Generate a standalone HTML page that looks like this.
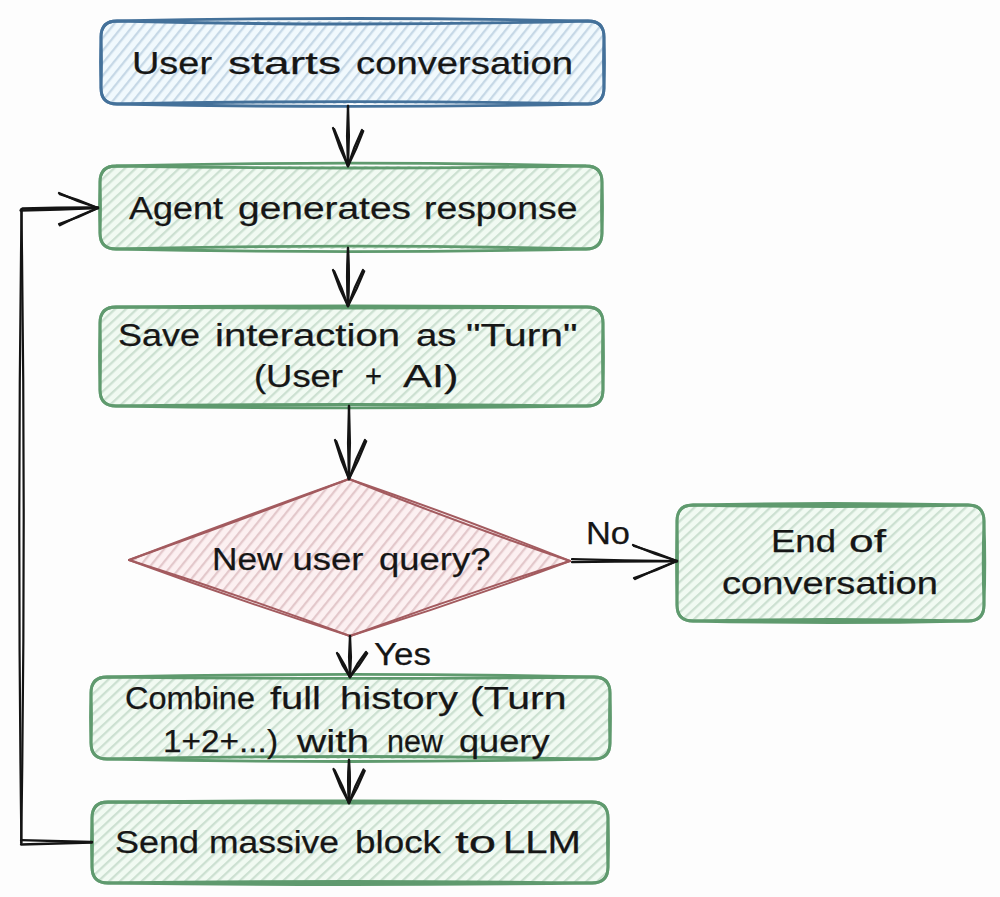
<!DOCTYPE html>
<html><head><meta charset="utf-8"><style>
html,body{margin:0;padding:0;background:#fdfdfd;width:1000px;height:897px;overflow:hidden;}
svg{display:block;font-family:"Liberation Sans",sans-serif;}
</style></head><body>
<svg width="1000" height="897" viewBox="0 0 1000 897"><defs><pattern id="hb" patternUnits="userSpaceOnUse" width="7.9" height="7.9" patternTransform="rotate(39)"><rect x="0" y="0" width="2.3" height="7.9" fill="#c6d8e6"/></pattern><pattern id="hg" patternUnits="userSpaceOnUse" width="7.4" height="7.4" patternTransform="rotate(47)"><rect x="0" y="0" width="2.3" height="7.4" fill="#cce0d1"/></pattern><pattern id="hr" patternUnits="userSpaceOnUse" width="8.0" height="8.0" patternTransform="rotate(39)"><rect x="0" y="0" width="2.3" height="8.0" fill="#e3c8cb"/></pattern></defs><rect width="1000" height="897" fill="#fdfdfd"/><g font-family="Liberation Sans, sans-serif" fill="#161616"><path d="M117.0,21.0 L588.0,21.0 Q604.0,21.0 604.0,37.0 L604.0,88.0 Q604.0,104.0 588.0,104.0 L117.0,104.0 Q101.0,104.0 101.0,88.0 L101.0,37.0 Q101.0,21.0 117.0,21.0 Z" fill="#f1f9fd"/>
<path d="M117.0,21.0 L588.0,21.0 Q604.0,21.0 604.0,37.0 L604.0,88.0 Q604.0,104.0 588.0,104.0 L117.0,104.0 Q101.0,104.0 101.0,88.0 L101.0,37.0 Q101.0,21.0 117.0,21.0 Z" fill="url(#hb)"/>
<path d="M117.0,21.0 Q352.5,16.0 588.0,21.0 Q604.0,21.0 604.0,37.0 Q605.0,62.5 604.0,88.0 Q604.0,104.0 588.0,104.0 Q352.5,108.8 117.0,104.0 Q101.0,104.0 101.0,88.0 Q100.0,62.5 101.0,37.0 Q101.0,21.0 117.0,21.0 Z" fill="none" stroke="#44719a" stroke-width="2.8" stroke-linejoin="round"/>
<path d="M117.0,21.0 Q352.5,27.0 588.0,21.0 Q604.0,21.0 604.0,37.0 Q603.0,62.5 604.0,88.0 Q604.0,104.0 588.0,104.0 Q352.5,99.2 117.0,104.0 Q101.0,104.0 101.0,88.0 Q102.0,62.5 101.0,37.0 Q101.0,21.0 117.0,21.0 Z" fill="none" stroke="#44719a" stroke-width="2.8" stroke-linejoin="round"/>
<path d="M116.0,166.0 L586.0,166.0 Q602.0,166.0 602.0,182.0 L602.0,233.0 Q602.0,249.0 586.0,249.0 L116.0,249.0 Q100.0,249.0 100.0,233.0 L100.0,182.0 Q100.0,166.0 116.0,166.0 Z" fill="#f1faf2"/>
<path d="M116.0,166.0 L586.0,166.0 Q602.0,166.0 602.0,182.0 L602.0,233.0 Q602.0,249.0 586.0,249.0 L116.0,249.0 Q100.0,249.0 100.0,233.0 L100.0,182.0 Q100.0,166.0 116.0,166.0 Z" fill="url(#hg)"/>
<path d="M116.0,166.0 Q351.0,160.4 586.0,166.0 Q602.0,166.0 602.0,182.0 Q603.0,207.5 602.0,233.0 Q602.0,249.0 586.0,249.0 Q351.0,254.2 116.0,249.0 Q100.0,249.0 100.0,233.0 Q99.0,207.5 100.0,182.0 Q100.0,166.0 116.0,166.0 Z" fill="none" stroke="#5f9a6e" stroke-width="2.8" stroke-linejoin="round"/>
<path d="M116.0,166.0 Q351.0,170.0 586.0,166.0 Q602.0,166.0 602.0,182.0 Q601.0,207.5 602.0,233.0 Q602.0,249.0 586.0,249.0 Q351.0,243.4 116.0,249.0 Q100.0,249.0 100.0,233.0 Q101.0,207.5 100.0,182.0 Q100.0,166.0 116.0,166.0 Z" fill="none" stroke="#5f9a6e" stroke-width="2.8" stroke-linejoin="round"/>
<path d="M116.0,307.0 L587.0,307.0 Q603.0,307.0 603.0,323.0 L603.0,390.0 Q603.0,406.0 587.0,406.0 L116.0,406.0 Q100.0,406.0 100.0,390.0 L100.0,323.0 Q100.0,307.0 116.0,307.0 Z" fill="#f1faf2"/>
<path d="M116.0,307.0 L587.0,307.0 Q603.0,307.0 603.0,323.0 L603.0,390.0 Q603.0,406.0 587.0,406.0 L116.0,406.0 Q100.0,406.0 100.0,390.0 L100.0,323.0 Q100.0,307.0 116.0,307.0 Z" fill="url(#hg)"/>
<path d="M116.0,307.0 Q351.5,305.0 587.0,307.0 Q603.0,307.0 603.0,323.0 Q604.0,356.5 603.0,390.0 Q603.0,406.0 587.0,406.0 Q351.5,409.6 116.0,406.0 Q100.0,406.0 100.0,390.0 Q99.0,356.5 100.0,323.0 Q100.0,307.0 116.0,307.0 Z" fill="none" stroke="#5f9a6e" stroke-width="2.8" stroke-linejoin="round"/>
<path d="M116.0,307.0 Q351.5,309.0 587.0,307.0 Q603.0,307.0 603.0,323.0 Q602.0,356.5 603.0,390.0 Q603.0,406.0 587.0,406.0 Q351.5,403.0 116.0,406.0 Q100.0,406.0 100.0,390.0 Q101.0,356.5 100.0,323.0 Q100.0,307.0 116.0,307.0 Z" fill="none" stroke="#5f9a6e" stroke-width="2.8" stroke-linejoin="round"/>
<path d="M349,479 L570,561 L350,636 L129,560 Z" fill="#fcf0f1"/>
<path d="M349,479 L570,561 L350,636 L129,560 Z" fill="url(#hr)"/>
<path d="M349.0,479.0 Q458.4,523.0 570.0,561.0" fill="none" stroke="#a35b5f" stroke-width="2.0" stroke-linecap="round" stroke-linejoin="round"/>
<path d="M349.0,479.0 Q460.5,517.4 570.0,561.0" fill="none" stroke="#a35b5f" stroke-width="2.0" stroke-linecap="round"/>
<path d="M570.0,561.0 Q459.0,595.7 350.0,636.0" fill="none" stroke="#a35b5f" stroke-width="2.0" stroke-linecap="round" stroke-linejoin="round"/>
<path d="M570.0,561.0 Q461.0,601.5 350.0,636.0" fill="none" stroke="#a35b5f" stroke-width="2.0" stroke-linecap="round"/>
<path d="M350.0,636.0 Q240.4,595.4 129.0,560.0" fill="none" stroke="#a35b5f" stroke-width="2.0" stroke-linecap="round" stroke-linejoin="round"/>
<path d="M350.0,636.0 Q238.7,600.3 129.0,560.0" fill="none" stroke="#a35b5f" stroke-width="2.0" stroke-linecap="round"/>
<path d="M129.0,560.0 Q239.4,520.6 349.0,479.0" fill="none" stroke="#a35b5f" stroke-width="2.0" stroke-linecap="round" stroke-linejoin="round"/>
<path d="M129.0,560.0 Q238.6,518.4 349.0,479.0" fill="none" stroke="#a35b5f" stroke-width="2.0" stroke-linecap="round"/>
<path d="M693.0,505.0 L968.0,505.0 Q984.0,505.0 984.0,521.0 L984.0,605.0 Q984.0,621.0 968.0,621.0 L693.0,621.0 Q677.0,621.0 677.0,605.0 L677.0,521.0 Q677.0,505.0 693.0,505.0 Z" fill="#f1faf2"/>
<path d="M693.0,505.0 L968.0,505.0 Q984.0,505.0 984.0,521.0 L984.0,605.0 Q984.0,621.0 968.0,621.0 L693.0,621.0 Q677.0,621.0 677.0,605.0 L677.0,521.0 Q677.0,505.0 693.0,505.0 Z" fill="url(#hg)"/>
<path d="M693.0,505.0 Q830.5,502.0 968.0,505.0 Q984.0,505.0 984.0,521.0 Q985.6,563.0 984.0,605.0 Q984.0,621.0 968.0,621.0 Q830.5,624.0 693.0,621.0 Q677.0,621.0 677.0,605.0 Q676.0,563.0 677.0,521.0 Q677.0,505.0 693.0,505.0 Z" fill="none" stroke="#5f9a6e" stroke-width="2.8" stroke-linejoin="round"/>
<path d="M693.0,505.0 Q830.5,508.0 968.0,505.0 Q984.0,505.0 984.0,521.0 Q982.4,563.0 984.0,605.0 Q984.0,621.0 968.0,621.0 Q830.5,618.0 693.0,621.0 Q677.0,621.0 677.0,605.0 Q678.0,563.0 677.0,521.0 Q677.0,505.0 693.0,505.0 Z" fill="none" stroke="#5f9a6e" stroke-width="2.8" stroke-linejoin="round"/>
<path d="M107.0,677.0 L594.0,677.0 Q610.0,677.0 610.0,693.0 L610.0,743.0 Q610.0,759.0 594.0,759.0 L107.0,759.0 Q91.0,759.0 91.0,743.0 L91.0,693.0 Q91.0,677.0 107.0,677.0 Z" fill="#f1faf2"/>
<path d="M107.0,677.0 L594.0,677.0 Q610.0,677.0 610.0,693.0 L610.0,743.0 Q610.0,759.0 594.0,759.0 L107.0,759.0 Q91.0,759.0 91.0,743.0 L91.0,693.0 Q91.0,677.0 107.0,677.0 Z" fill="url(#hg)"/>
<path d="M107.0,677.0 Q350.5,671.8 594.0,677.0 Q610.0,677.0 610.0,693.0 Q611.0,718.0 610.0,743.0 Q610.0,759.0 594.0,759.0 Q350.5,764.0 107.0,759.0 Q91.0,759.0 91.0,743.0 Q90.0,718.0 91.0,693.0 Q91.0,677.0 107.0,677.0 Z" fill="none" stroke="#5f9a6e" stroke-width="2.8" stroke-linejoin="round"/>
<path d="M107.0,677.0 Q350.5,679.8 594.0,677.0 Q610.0,677.0 610.0,693.0 Q609.0,718.0 610.0,743.0 Q610.0,759.0 594.0,759.0 Q350.5,754.0 107.0,759.0 Q91.0,759.0 91.0,743.0 Q92.0,718.0 91.0,693.0 Q91.0,677.0 107.0,677.0 Z" fill="none" stroke="#5f9a6e" stroke-width="2.8" stroke-linejoin="round"/>
<path d="M108.0,802.0 L592.0,802.0 Q608.0,802.0 608.0,818.0 L608.0,867.0 Q608.0,883.0 592.0,883.0 L108.0,883.0 Q92.0,883.0 92.0,867.0 L92.0,818.0 Q92.0,802.0 108.0,802.0 Z" fill="#f1faf2"/>
<path d="M108.0,802.0 L592.0,802.0 Q608.0,802.0 608.0,818.0 L608.0,867.0 Q608.0,883.0 592.0,883.0 L108.0,883.0 Q92.0,883.0 92.0,867.0 L92.0,818.0 Q92.0,802.0 108.0,802.0 Z" fill="url(#hg)"/>
<path d="M108.0,802.0 Q350.0,799.6 592.0,802.0 Q608.0,802.0 608.0,818.0 Q609.0,842.5 608.0,867.0 Q608.0,883.0 592.0,883.0 Q350.0,886.0 108.0,883.0 Q92.0,883.0 92.0,867.0 Q91.0,842.5 92.0,818.0 Q92.0,802.0 108.0,802.0 Z" fill="none" stroke="#5f9a6e" stroke-width="2.8" stroke-linejoin="round"/>
<path d="M108.0,802.0 Q350.0,804.0 592.0,802.0 Q608.0,802.0 608.0,818.0 Q607.0,842.5 608.0,867.0 Q608.0,883.0 592.0,883.0 Q350.0,880.0 108.0,883.0 Q92.0,883.0 92.0,867.0 Q93.0,842.5 92.0,818.0 Q92.0,802.0 108.0,802.0 Z" fill="none" stroke="#5f9a6e" stroke-width="2.8" stroke-linejoin="round"/>
<path d="M348.0,106.0 Q346.2,136.0 348.0,166.0" fill="none" stroke="#141414" stroke-width="2.3" stroke-linecap="round"/>
<path d="M348.0,106.0 Q349.8,136.0 348.0,166.0" fill="none" stroke="#141414" stroke-width="2.3" stroke-linecap="round"/>
<path d="M333.0,128.0 Q339.0,147.6 348.0,166.0" fill="none" stroke="#141414" stroke-width="2.3" stroke-linecap="round"/>
<path d="M334.2,129.2 Q342.2,147.2 348.0,166.0" fill="none" stroke="#141414" stroke-width="2.3" stroke-linecap="round"/>
<path d="M362.0,130.0 Q353.5,147.4 348.0,166.0" fill="none" stroke="#141414" stroke-width="2.3" stroke-linecap="round"/>
<path d="M363.2,131.2 Q356.7,149.1 348.0,166.0" fill="none" stroke="#141414" stroke-width="2.3" stroke-linecap="round"/>
<path d="M348.0,248.0 Q346.2,277.0 348.0,306.0" fill="none" stroke="#141414" stroke-width="2.3" stroke-linecap="round"/>
<path d="M348.0,248.0 Q349.8,277.0 348.0,306.0" fill="none" stroke="#141414" stroke-width="2.3" stroke-linecap="round"/>
<path d="M333.0,270.0 Q339.0,288.6 348.0,306.0" fill="none" stroke="#141414" stroke-width="2.3" stroke-linecap="round"/>
<path d="M334.2,271.2 Q342.2,288.2 348.0,306.0" fill="none" stroke="#141414" stroke-width="2.3" stroke-linecap="round"/>
<path d="M363.0,270.0 Q354.0,287.4 348.0,306.0" fill="none" stroke="#141414" stroke-width="2.3" stroke-linecap="round"/>
<path d="M364.2,271.2 Q357.2,289.1 348.0,306.0" fill="none" stroke="#141414" stroke-width="2.3" stroke-linecap="round"/>
<path d="M349.0,406.0 Q347.2,442.5 349.0,479.0" fill="none" stroke="#141414" stroke-width="2.3" stroke-linecap="round"/>
<path d="M349.0,406.0 Q350.8,442.5 349.0,479.0" fill="none" stroke="#141414" stroke-width="2.3" stroke-linecap="round"/>
<path d="M335.0,440.0 Q340.5,460.0 349.0,479.0" fill="none" stroke="#141414" stroke-width="2.3" stroke-linecap="round"/>
<path d="M336.2,441.2 Q343.7,459.7 349.0,479.0" fill="none" stroke="#141414" stroke-width="2.3" stroke-linecap="round"/>
<path d="M365.0,440.0 Q355.5,458.9 349.0,479.0" fill="none" stroke="#141414" stroke-width="2.3" stroke-linecap="round"/>
<path d="M366.2,441.2 Q358.7,460.6 349.0,479.0" fill="none" stroke="#141414" stroke-width="2.3" stroke-linecap="round"/>
<path d="M350.0,636.0 Q348.2,656.5 350.0,677.0" fill="none" stroke="#141414" stroke-width="2.3" stroke-linecap="round"/>
<path d="M350.0,636.0 Q351.8,656.5 350.0,677.0" fill="none" stroke="#141414" stroke-width="2.3" stroke-linecap="round"/>
<path d="M337.0,653.0 Q342.1,665.8 350.0,677.0" fill="none" stroke="#141414" stroke-width="2.3" stroke-linecap="round"/>
<path d="M338.2,654.2 Q345.2,665.0 350.0,677.0" fill="none" stroke="#141414" stroke-width="2.3" stroke-linecap="round"/>
<path d="M366.0,652.0 Q356.7,663.6 350.0,677.0" fill="none" stroke="#141414" stroke-width="2.3" stroke-linecap="round"/>
<path d="M367.2,653.2 Q359.6,665.8 350.0,677.0" fill="none" stroke="#141414" stroke-width="2.3" stroke-linecap="round"/>
<path d="M349.0,760.0 Q347.2,781.5 349.0,803.0" fill="none" stroke="#141414" stroke-width="2.3" stroke-linecap="round"/>
<path d="M349.0,760.0 Q350.8,781.5 349.0,803.0" fill="none" stroke="#141414" stroke-width="2.3" stroke-linecap="round"/>
<path d="M333.5,769.0 Q339.8,786.7 349.0,803.0" fill="none" stroke="#141414" stroke-width="2.3" stroke-linecap="round"/>
<path d="M334.7,770.2 Q343.0,786.1 349.0,803.0" fill="none" stroke="#141414" stroke-width="2.3" stroke-linecap="round"/>
<path d="M363.5,769.5 Q354.8,785.6 349.0,803.0" fill="none" stroke="#141414" stroke-width="2.3" stroke-linecap="round"/>
<path d="M364.7,770.7 Q357.9,787.4 349.0,803.0" fill="none" stroke="#141414" stroke-width="2.3" stroke-linecap="round"/>
<path d="M572.0,559.2 Q624.5,560.7 677.0,561.0" fill="none" stroke="#141414" stroke-width="2.2" stroke-linecap="round"/>
<path d="M572.0,562.2 Q624.5,561.3 677.0,561.5" fill="none" stroke="#141414" stroke-width="2.2" stroke-linecap="round"/>
<path d="M633.0,545.0 Q654.5,554.5 677.0,561.0" fill="none" stroke="#141414" stroke-width="2.3" stroke-linecap="round"/>
<path d="M634.0,546.0 Q655.9,552.4 677.0,561.0" fill="none" stroke="#141414" stroke-width="2.3" stroke-linecap="round"/>
<path d="M634.0,578.0 Q656.1,571.0 677.0,561.0" fill="none" stroke="#141414" stroke-width="2.3" stroke-linecap="round"/>
<path d="M635.0,579.0 Q655.5,568.9 677.0,561.0" fill="none" stroke="#141414" stroke-width="2.3" stroke-linecap="round"/>
<path d="M92.0,842.0 Q56.5,841.1 21.0,840.2" fill="none" stroke="#141414" stroke-width="2.3" stroke-linecap="round"/>
<path d="M92.0,842.5 Q56.5,843.5 21.0,844.5" fill="none" stroke="#141414" stroke-width="2.3" stroke-linecap="round"/>
<path d="M21.2,843.0 Q26.1,526.0 21.4,209.0" fill="none" stroke="#141414" stroke-width="2.2" stroke-linecap="round"/>
<path d="M21.4,843.0 Q17.1,526.0 21.6,209.0" fill="none" stroke="#141414" stroke-width="2.2" stroke-linecap="round"/>
<path d="M20.5,210.5 Q59.3,209.9 98.0,208.2" fill="none" stroke="#141414" stroke-width="2.3" stroke-linecap="round"/>
<path d="M22.5,208.5 Q60.2,207.4 98.0,207.5" fill="none" stroke="#141414" stroke-width="2.3" stroke-linecap="round"/>
<path d="M59.0,193.0 Q77.9,202.0 98.0,208.0" fill="none" stroke="#141414" stroke-width="2.3" stroke-linecap="round"/>
<path d="M59.8,194.2 Q79.3,200.0 98.0,208.0" fill="none" stroke="#141414" stroke-width="2.3" stroke-linecap="round"/>
<path d="M59.0,224.0 Q79.1,217.5 98.0,208.0" fill="none" stroke="#141414" stroke-width="2.3" stroke-linecap="round"/>
<path d="M59.8,225.2 Q78.4,215.5 98.0,208.0" fill="none" stroke="#141414" stroke-width="2.3" stroke-linecap="round"/>
<text x="132.0" y="73.5" font-size="31" textLength="80.0" lengthAdjust="spacingAndGlyphs" stroke="#161616" stroke-width="0.25" stroke-linejoin="round">User</text>
<text x="228.0" y="73.5" font-size="31" textLength="113.0" lengthAdjust="spacingAndGlyphs" stroke="#161616" stroke-width="0.25" stroke-linejoin="round">starts</text>
<text x="356.0" y="73.5" font-size="31" textLength="217.0" lengthAdjust="spacingAndGlyphs" stroke="#161616" stroke-width="0.25" stroke-linejoin="round">conversation</text>
<text x="129.0" y="218.5" font-size="31" textLength="94.0" lengthAdjust="spacingAndGlyphs" stroke="#161616" stroke-width="0.25" stroke-linejoin="round">Agent</text>
<text x="238.0" y="218.5" font-size="31" textLength="173.0" lengthAdjust="spacingAndGlyphs" stroke="#161616" stroke-width="0.25" stroke-linejoin="round">generates</text>
<text x="424.0" y="218.5" font-size="31" textLength="153.5" lengthAdjust="spacingAndGlyphs" stroke="#161616" stroke-width="0.25" stroke-linejoin="round">response</text>
<text x="118.0" y="346" font-size="31" textLength="82.0" lengthAdjust="spacingAndGlyphs" stroke="#161616" stroke-width="0.25" stroke-linejoin="round">Save</text>
<text x="215.0" y="346" font-size="31" textLength="185.0" lengthAdjust="spacingAndGlyphs" stroke="#161616" stroke-width="0.25" stroke-linejoin="round">interaction</text>
<text x="416.0" y="346" font-size="31" textLength="40.5" lengthAdjust="spacingAndGlyphs" stroke="#161616" stroke-width="0.25" stroke-linejoin="round">as</text>
<text x="466.0" y="346" font-size="31" textLength="111.5" lengthAdjust="spacingAndGlyphs" stroke="#161616" stroke-width="0.25" stroke-linejoin="round">&quot;Turn&quot;</text>
<text x="254.0" y="387" font-size="31" textLength="89.0" lengthAdjust="spacingAndGlyphs" stroke="#161616" stroke-width="0.25" stroke-linejoin="round">(User</text>
<text x="365.0" y="387" font-size="31" textLength="17.0" lengthAdjust="spacingAndGlyphs" stroke="#161616" stroke-width="0.25" stroke-linejoin="round">+</text>
<text x="403.0" y="387" font-size="31" textLength="55.5" lengthAdjust="spacingAndGlyphs" stroke="#161616" stroke-width="0.25" stroke-linejoin="round">AI)</text>
<text x="212.0" y="569.5" font-size="31" textLength="70.5" lengthAdjust="spacingAndGlyphs" stroke="#161616" stroke-width="0.25" stroke-linejoin="round">New</text>
<text x="292.5" y="569.5" font-size="31" textLength="71.0" lengthAdjust="spacingAndGlyphs" stroke="#161616" stroke-width="0.25" stroke-linejoin="round">user</text>
<text x="379.0" y="569.5" font-size="31" textLength="111.5" lengthAdjust="spacingAndGlyphs" stroke="#161616" stroke-width="0.25" stroke-linejoin="round">query?</text>
<text x="771.0" y="552.4" font-size="31" textLength="65.0" lengthAdjust="spacingAndGlyphs" stroke="#161616" stroke-width="0.25" stroke-linejoin="round">End</text>
<text x="849.0" y="552.4" font-size="31" textLength="37.0" lengthAdjust="spacingAndGlyphs" stroke="#161616" stroke-width="0.25" stroke-linejoin="round">of</text>
<text x="722.0" y="594.4" font-size="31" textLength="216.0" lengthAdjust="spacingAndGlyphs" stroke="#161616" stroke-width="0.25" stroke-linejoin="round">conversation</text>
<text x="125.0" y="708.6" font-size="31" textLength="130.0" lengthAdjust="spacingAndGlyphs" stroke="#161616" stroke-width="0.25" stroke-linejoin="round">Combine</text>
<text x="270.0" y="708.6" font-size="31" textLength="51.0" lengthAdjust="spacingAndGlyphs" stroke="#161616" stroke-width="0.25" stroke-linejoin="round">full</text>
<text x="340.0" y="708.6" font-size="31" textLength="118.0" lengthAdjust="spacingAndGlyphs" stroke="#161616" stroke-width="0.25" stroke-linejoin="round">history</text>
<text x="470.0" y="708.6" font-size="31" textLength="96.5" lengthAdjust="spacingAndGlyphs" stroke="#161616" stroke-width="0.25" stroke-linejoin="round">(Turn</text>
<text x="163.0" y="751.8" font-size="31" textLength="115.0" lengthAdjust="spacingAndGlyphs" stroke="#161616" stroke-width="0.25" stroke-linejoin="round">1+2+...)</text>
<text x="297.0" y="751.8" font-size="31" textLength="72.0" lengthAdjust="spacingAndGlyphs" stroke="#161616" stroke-width="0.25" stroke-linejoin="round">with</text>
<text x="387.0" y="751.8" font-size="31" textLength="56.0" lengthAdjust="spacingAndGlyphs" stroke="#161616" stroke-width="0.25" stroke-linejoin="round">new</text>
<text x="459.0" y="751.8" font-size="31" textLength="90.5" lengthAdjust="spacingAndGlyphs" stroke="#161616" stroke-width="0.25" stroke-linejoin="round">query</text>
<text x="115.0" y="853.4" font-size="31" textLength="84.0" lengthAdjust="spacingAndGlyphs" stroke="#161616" stroke-width="0.25" stroke-linejoin="round">Send</text>
<text x="209.0" y="853.4" font-size="31" textLength="130.0" lengthAdjust="spacingAndGlyphs" stroke="#161616" stroke-width="0.25" stroke-linejoin="round">massive</text>
<text x="355.0" y="853.4" font-size="31" textLength="86.0" lengthAdjust="spacingAndGlyphs" stroke="#161616" stroke-width="0.25" stroke-linejoin="round">block</text>
<text x="455.0" y="853.4" font-size="31" textLength="41.0" lengthAdjust="spacingAndGlyphs" stroke="#161616" stroke-width="0.25" stroke-linejoin="round">to</text>
<text x="503.0" y="853.4" font-size="31" textLength="78.0" lengthAdjust="spacingAndGlyphs" stroke="#161616" stroke-width="0.25" stroke-linejoin="round">LLM</text>
<text x="586.0" y="543.5" font-size="31" textLength="44.0" lengthAdjust="spacingAndGlyphs" stroke="#161616" stroke-width="0.25" stroke-linejoin="round">No</text>
<text x="374.0" y="665" font-size="31" textLength="57.0" lengthAdjust="spacingAndGlyphs" stroke="#161616" stroke-width="0.25" stroke-linejoin="round">Yes</text></g></svg>
</body></html>
